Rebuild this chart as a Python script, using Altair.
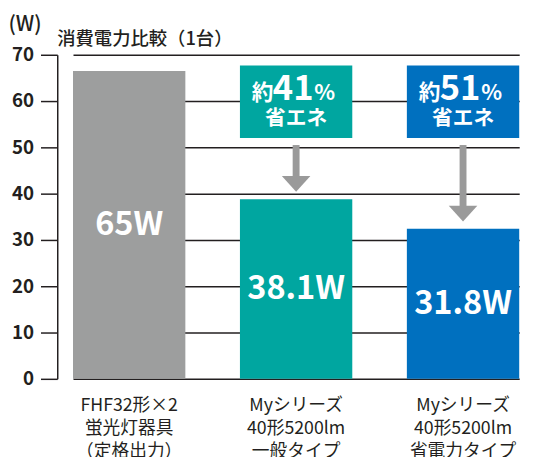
import altair as alt
import pandas as pd

categories = ["FHF32形×2|蛍光灯器具|（定格出力）",
              "Myシリーズ|40形5200lm|一般タイプ",
              "Myシリーズ|40形5200lm|省電力タイプ"]
bar_heights = [66.5, 38.8, 32.4]
bar_labels = ["65W", "38.1W", "31.8W"]
savings = [None, "41", "51"]
colors = ["#9d9e9e", "#00a6a0", "#0070bf"]
y_ticks = [0, 10, 20, 30, 40, 50, 60, 70]

FONT = "Noto Sans CJK JP"

df = pd.DataFrame({"cat": categories, "h": bar_heights, "lab": bar_labels,
                   "saving": savings})

xenc = alt.X("cat:N", sort=categories,
             scale=alt.Scale(range=[16, 469], paddingInner=0.327, paddingOuter=0),
             axis=alt.Axis(title=None, labelAngle=0, ticks=False, domain=False,
                           labelExpr="split(datum.label, '|')",
                           labelFont=FONT, labelFontSize=18, labelColor="#231f20",
                           labelLineHeight=23.5, labelPadding=18, labelBaseline="top"))
xs = alt.X("cat:N", sort=categories)
color = alt.Color("cat:N", sort=categories, scale=alt.Scale(domain=categories, range=colors),
                  legend=None)

base = alt.Chart(df)

bars = base.mark_bar().encode(
    x=xenc,
    y=alt.Y("h:Q", scale=alt.Scale(domain=[0, 70], nice=False),
            axis=alt.Axis(values=y_ticks, title="(W)", titleAngle=0, titleX=-50, titleY=-31,
                          titleAlign="left", titleBaseline="middle", titleFont=FONT,
                          titleFontSize=21, titleFontWeight=500, titleColor="#231f20",
                          labelFont=FONT, labelFontSize=19, labelFontWeight="bold",
                          labelColor="#231f20", labelPadding=7,
                          domainColor="#231f20", domainWidth=1.5,
                          tickColor="#231f20", tickWidth=1.5, tickSize=17,
                          grid=True, gridColor="#231f20", gridWidth=1.5, gridOpacity=1)),
    color=color,
)

vals = base.transform_calculate(mid="datum.h/2").mark_text(
    font=FONT, fontSize=33, fontWeight="bold", color="white", baseline="middle"
).encode(x=xs, y="mid:Q", text="lab:N")

callouts = base.transform_filter("isValid(datum.saving)").transform_calculate(
    b0="52.0", b1="67.7", tb="60.3", te="56.1", s0="50.5",
    end="datum.h + 4.5", hm="datum.h + 3.3", yaku="'約'", pc="'%'", eco="'省エネ'")

boxes = callouts.mark_bar().encode(x=xs, y="b0:Q", y2="b1:Q", color=color)

t_yaku = callouts.mark_text(font=FONT, fontSize=22, fontWeight="bold", color="white",
                            baseline="alphabetic", dx=-34).encode(x=xs, y="tb:Q", text="yaku:N")
t_pct = callouts.mark_text(font=FONT, fontSize=35, fontWeight="bold", color="white",
                           baseline="alphabetic", dx=-3).encode(x=xs, y="tb:Q", text="saving:N")
t_sym = callouts.mark_text(font=FONT, fontSize=22, fontWeight="bold", color="white",
                           baseline="alphabetic", dx=29).encode(x=xs, y="tb:Q", text="pc:N")
t_eco = callouts.mark_text(font=FONT, fontSize=21, fontWeight="bold", color="white",
                           baseline="middle").encode(x=xs, y="te:Q", text="eco:N")

shaft = callouts.mark_rule(color="#9a9a9a", strokeWidth=7).encode(x=xs, y="s0:Q", y2="end:Q")
head = callouts.mark_point(
    shape="M -1 -0.55 L 1 -0.55 L 0 0.55 Z", size=841, filled=True, opacity=1,
    color="#9a9a9a", strokeWidth=0).encode(x=xs, y="hm:Q")

chart = alt.layer(bars, vals, boxes, t_yaku, t_pct, t_sym, t_eco, shaft, head).properties(
    width=483, height=329,
    autosize=alt.AutoSizeParams(type="none"),
    padding={"left": 50, "top": 44, "right": 0, "bottom": 84},
    title=alt.TitleParams("消費電力比較（1台）", anchor="start", frame="group", font=FONT,
                          fontSize=18.6, fontWeight=500, color="#231f20", offset=5, dy=41),
).configure_view(stroke=None).configure_axis(labelOverlap=False)

chart.save("out.html", embed_options={"renderer": "svg", "actions": False})
